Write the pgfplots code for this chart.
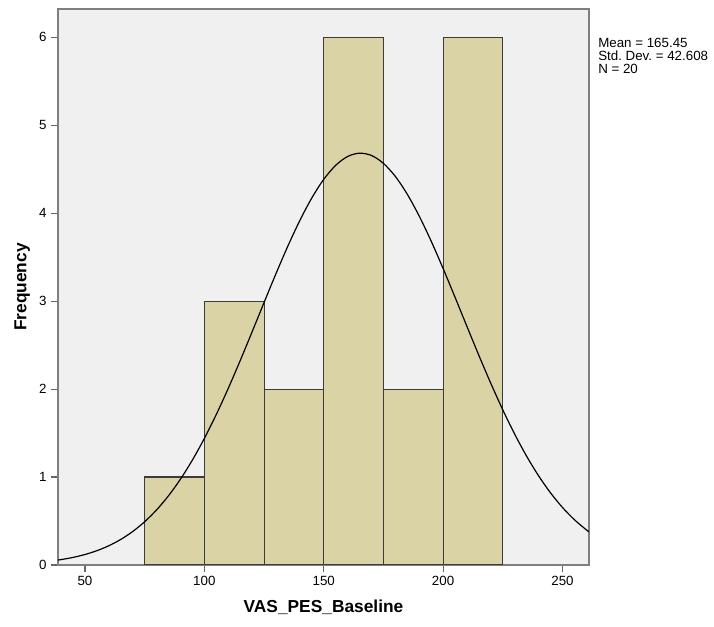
\documentclass[border=0pt]{standalone}
\usepackage{fontspec}
\setmainfont{Liberation Sans}
\usepackage{pgfplots}
\pgfplotsset{compat=1.18}
\definecolor{barfill}{HTML}{D9D3A6}
\definecolor{plotbg}{HTML}{F0F0F0}
\definecolor{framec}{HTML}{7F7F7F}
\definecolor{baredge}{HTML}{3C3C3C}
\begin{document}
\frenchspacing
\begin{tikzpicture}
\begin{axis}[
  scale only axis,
  width=398.25pt, height=417pt,
  xmin=38.7, xmax=261.1,
  ymin=0, ymax=6.32,
  axis background/.style={fill=plotbg},
  axis line style={draw=framec, line width=1.5pt},
  xtick={50,100,150,200,250},
  ytick={0,1,2,3,4,5,6},
  tick align=outside,
  tick pos=left,
  major tick length=5pt,
  tick style={draw=framec!80!black, line width=0.8pt},
  ticklabel style={font=\fontsize{10}{12}\selectfont, text=black},
  /pgf/number format/assume math mode=true,
  xlabel={\bfseries VAS\_PES\_Baseline},
  ylabel={\bfseries Frequency},
  label style={font=\fontsize{13}{15}\selectfont},
  xlabel style={yshift=-4pt},
  ylabel style={yshift=0pt},
  clip=true,
]
\addplot[ybar interval, fill=barfill, draw=baredge, line width=0.8pt] coordinates {
 (75,1) (100,3) (125,2) (150,6) (175,2) (200,6) (225,6)
};
\addplot[black, line width=0.9pt, smooth, no marks] coordinates {
 (38.7,0.0561) (40,0.0614) (45,0.0861) (50,0.1192) (55,0.1626) (60,0.2190)
 (65,0.2908) (70,0.3808) (75,0.4918) (80,0.6266) (85,0.7875) (90,0.9762)
 (95,1.1933) (100,1.4388) (105,1.7112) (110,2.0073) (115,2.3226) (120,2.6504)
 (125,2.9832) (130,3.3119) (135,3.6266) (140,3.9167) (145,4.1722) (150,4.3837)
 (155,4.5429) (160,4.6434) (165,4.6813) (170,4.6550) (175,4.5654) (180,4.4164)
 (185,4.2139) (190,3.9655) (195,3.6808) (200,3.3699) (205,3.0430) (210,2.7102)
 (215,2.3809) (220,2.0630) (225,1.7629) (230,1.4859) (235,1.2353) (240,1.0130)
 (245,0.8194) (250,0.6537) (255,0.5144) (260,0.3992) (261.1,0.3767)
};
\coordinate (bl) at (rel axis cs:0,0);
\coordinate (tr) at (rel axis cs:1,1);
\end{axis}
\node[anchor=north west, align=left, inner sep=0pt, font=\fontsize{10}{9.75}\selectfont]
  at ([xshift=6.75pt,yshift=-22pt]tr) {Mean = 165.45\\Std. Dev. = 42.608\\N = 20};
\pgfresetboundingbox
\path (bl) ++(-43.5pt,-46.5pt) rectangle ++(535.5pt,470.25pt);
\end{tikzpicture}
\end{document}
